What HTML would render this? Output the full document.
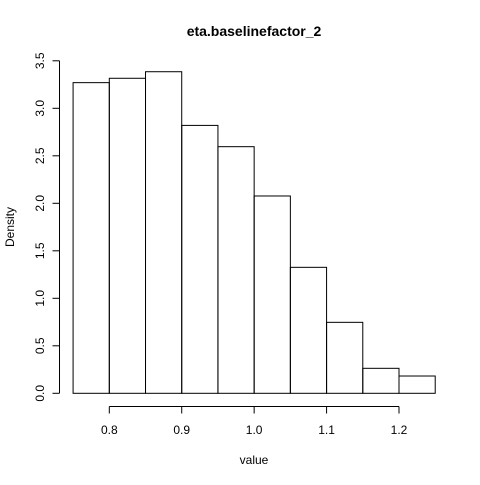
<!DOCTYPE html>
<html><head><meta charset="utf-8"><style>
body{margin:0;background:#fff}
text{font-family:"Liberation Sans",Arial,sans-serif;fill:#000}
</style></head><body>
<svg id="c" width="480" height="480" xmlns="http://www.w3.org/2000/svg">
<text x="254" y="36" text-anchor="middle" font-size="14" font-weight="bold">eta.baselinefactor_2</text>
<text x="254" y="464" text-anchor="middle" font-size="12">value</text>
<text transform="translate(14,227) rotate(-90)" text-anchor="middle" font-size="12">Density</text>
</svg>
<script>
const breaks=[0.75,0.8,0.85,0.9,0.95,1.0,1.05,1.1,1.15,1.2,1.25];
const densities=[3.27,3.316,3.385,2.82,2.596,2.077,1.326,0.747,0.263,0.182];
const xTicks=[0.8,0.9,1.0,1.1,1.2];
const xTickLabels=["0.8","0.9","1.0","1.1","1.2"];
const yTicks=[0,0.5,1,1.5,2,2.5,3,3.5];
const yTickLabels=["0.0","0.5","1.0","1.5","2.0","2.5","3.0","3.5"];
const svg=document.getElementById('c');const NS="http://www.w3.org/2000/svg";
const X=v=>109.3+(v-0.8)*724.25;
const Y=v=>393.3-v*95;
function mk(t,a){const e=document.createElementNS(NS,t);for(const k in a)e.setAttribute(k,a[k]);svg.appendChild(e);return e;}
densities.forEach((d,i)=>{
 const r=mk('rect',{x:X(breaks[i]),y:Y(d),width:X(breaks[i+1])-X(breaks[i]),height:Y(0)-Y(d),fill:'none',stroke:'#000','stroke-width':1});
 
 
});
let ax=mk('line',{x1:X(xTicks[0]),x2:X(xTicks[xTicks.length-1]),y1:406.5,y2:406.5,stroke:'#000'});


xTicks.forEach((v,i)=>{
 mk('line',{x1:X(v),x2:X(v),y1:406.5,y2:413.5,stroke:'#000'});
 const t=mk('text',{x:X(v),y:434,'text-anchor':'middle','font-size':12});t.textContent=xTickLabels[i];
 
 
});
let ay=mk('line',{x1:59.5,x2:59.5,y1:Y(yTicks[0]),y2:Y(yTicks[yTicks.length-1]),stroke:'#000'});


yTicks.forEach((v,i)=>{
 mk('line',{x1:52.5,x2:59.5,y1:Y(v),y2:Y(v),stroke:'#000'});
 const t=mk('text',{transform:`translate(44,${Y(v)}) rotate(-90)`,'text-anchor':'middle','font-size':12});t.textContent=yTickLabels[i];
 
 
});
</script>
</body></html>
